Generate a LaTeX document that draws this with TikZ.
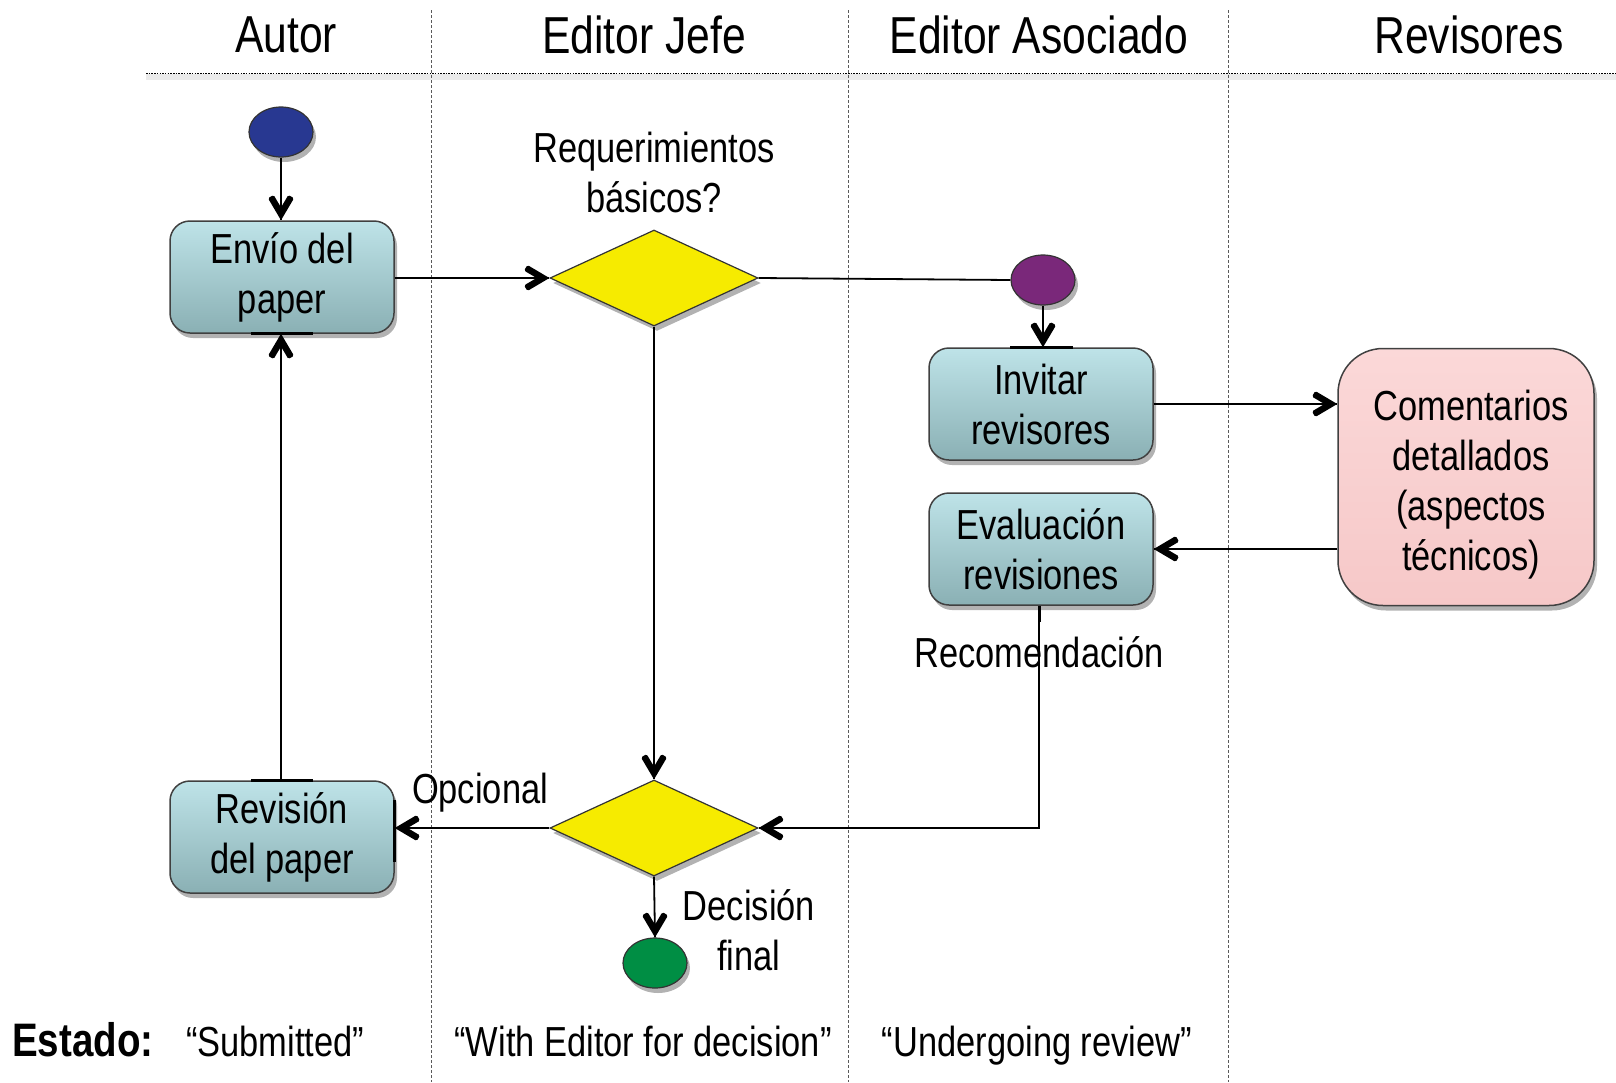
\documentclass[tikz,border=0pt]{standalone}
\usepackage{fontspec}
\setmainfont{Liberation Sans}[FakeStretch=0.82]
\usetikzlibrary{shapes.geometric,shadows}
\definecolor{boxtop}{RGB}{190,227,232}
\definecolor{boxbot}{RGB}{138,176,180}
\definecolor{pinktop}{RGB}{251,216,216}
\definecolor{pinkbot}{RGB}{246,200,200}
\definecolor{yel}{RGB}{246,235,0}
\definecolor{startb}{RGB}{40,56,145}
\definecolor{purp}{RGB}{122,40,122}
\definecolor{greenf}{RGB}{0,142,68}
\tikzset{
  shad/.style={drop shadow={shadow xshift=3pt, shadow yshift=-5pt, fill=black, opacity=0.3}},
  proc/.style={rectangle, rounded corners=20pt, draw=black!75, line width=1.5pt,
    top color=boxtop, bottom color=boxbot, minimum width=224pt, minimum height=112pt,
    align=center, font=\fontsize{42}{50}\selectfont, inner sep=0pt, shad},
  pinkbox/.style={rectangle, rounded corners=45pt, draw=black!75, line width=1.5pt,
    top color=pinktop, bottom color=pinkbot, minimum width=256pt, minimum height=257pt,
    inner sep=0pt, shad},
  dec/.style={diamond, draw=black!80, line width=1.2pt, fill=yel, minimum width=208pt,
    minimum height=96pt, inner sep=0pt, shad},
  dot/.style={ellipse, draw=black!80, line width=1.2pt, minimum width=64pt,
    minimum height=50pt, inner sep=0pt, shad},
  vhead/.pic={\fill[black, draw=none, rounded corners=1.5pt]
      (0pt,0pt) -- (-22pt,-13pt) -- (-25.3pt,-7.4pt) -- (-12.8pt,0pt)
      -- (-25.3pt,7.4pt) -- (-22pt,13pt) -- cycle;},
  plain/.style={line width=1.8pt},
  pinseg/.style={line width=3pt},
  lab/.style={font=\fontsize{42}{50}\selectfont, align=center, inner sep=0pt},
  head/.style={font=\fontsize{52}{60}\selectfont, inner sep=0pt},
  vsep/.style={line width=1pt, draw=black!65, dash pattern=on 3pt off 2pt},
}
\begin{document}
\begin{tikzpicture}[x=1pt,y=-1pt]
\useasboundingbox (0,0) rectangle (1616,1082);
% lanes
\fill[black!8] (146,74) rectangle (1616,80);
\draw[line width=1pt, dash pattern=on 1.5pt off 1.2pt] (146,73) -- (1616,73);
\draw[vsep] (431,10) -- (431,1082);
\draw[vsep] (848,10) -- (848,1082);
\draw[vsep] (1228,10) -- (1228,1082);
% headers
\node[head] (hA) at (286,35) {Autor};
\node[head] (hB) at (644,35) {Editor Jefe};
\node[head] (hC) at (1039,35) {Editor Asociado};
\node[head] (hD) at (1469,35) {Revisores};
% nodes
\node[dot, fill=startb] (start) at (281,132) {};
\node[proc] (envio) at (282,277) {Envío del\\paper};
\node[dec] (d1) at (654,278) {};
\node[lab] (req) at (654,172) {Requerimientos\\básicos?};
\node[dot, fill=purp] (pc) at (1043,280) {};
\node[proc] (inv) at (1041,404) {Invitar\\revisores};
\node[proc] (eval) at (1041,549) {Evaluación\\revisiones};
\node[pinkbox] (com) at (1466,477) {};
\node[lab] (comtxt) at (1471,485) {Comentarios\\detallados\\(aspectos\\técnicos)};
\node[dec] (d2) at (654,828) {};
\node[proc] (rev) at (282,837) {Revisión\\del paper};
\node[dot, fill=greenf] (endc) at (655,963) {};
% connection marks on box edges
\draw[pinseg] (envio.south -| 251,0) -- (envio.south -| 313,0);
\draw[pinseg] (rev.north -| 251,0) -- (rev.north -| 313,0);
\draw[pinseg] (inv.north -| 1010,0) -- (inv.north -| 1073,0);
\draw[pinseg] (rev.east |- 0,800) -- (rev.east |- 0,862);
% connectors
\draw[plain] (start.south) -- (start.south |- envio.north) pic[rotate=-90]{vhead};
\draw[plain] (envio.east |- d1.west) -- (d1.west) pic{vhead};
\draw[plain] (d1.east) -- (pc.west);
\draw[plain] (pc.south) -- (pc.south |- inv.north) pic[rotate=-90]{vhead};
\draw[plain] (inv.east) -- (inv.east -| com.west) pic{vhead};
\draw[plain] (com.west |- eval.east) -- (eval.east) pic[rotate=180]{vhead};
\draw[plain] (d1.south) -- (d2.north) pic[rotate=-90]{vhead};
\coordinate (corner) at (1039,828);
\draw[plain] (eval.south -| corner) -- (corner) -- (d2.east) pic[rotate=180]{vhead};
\draw[pinseg] (eval.south -| corner) -- ++(0,16);
\draw[plain] (d2.west) -- (d2.west -| rev.east) pic[rotate=180]{vhead};
\draw[plain] (rev.north -| start.south) -- (envio.south -| start.south) pic[rotate=90]{vhead};
\draw[plain] (d2.south) -- (endc.north) pic[rotate=-90]{vhead};
% labels
\node[lab] (reco) at (1039,652) {Recomendación};
\node[lab] (opc) at (480,793) {Opcional};
\node[lab] (decf) at (749,930) {Decisión\\final};
% status row
\node[font=\fontsize{47}{54}\selectfont\bfseries, anchor=base west, inner sep=0pt] (est) at (12,1056) {Estado:};
\node[lab, anchor=base] (s1) at (275,1056) {“Submitted”};
\node[lab, anchor=base] (s2) at (643,1056) {“With Editor for decision”};
\node[lab, anchor=base] (s3) at (1037,1056) {“Undergoing review”};
\end{tikzpicture}
\end{document}
